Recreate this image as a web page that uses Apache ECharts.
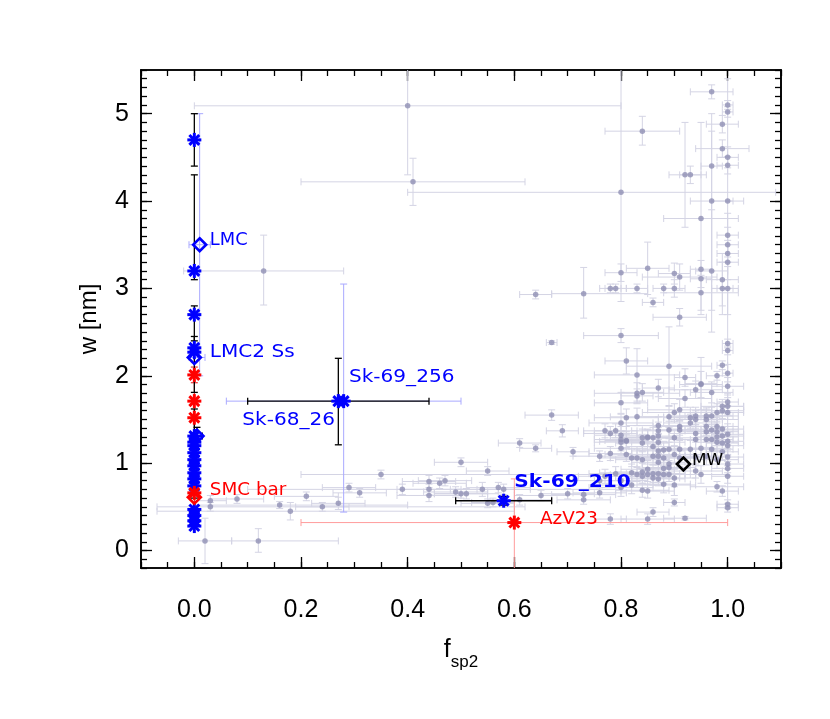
<!DOCTYPE html>
<html><head><meta charset="utf-8">
<script src="https://cdn.jsdelivr.net/npm/echarts@6/dist/echarts.min.js"></script>
<style>html,body{margin:0;padding:0;background:#fff}#c{width:830px;height:719px}</style>
</head><body><div id="c"></div>
<script>
// ---------- tick labels ----------
const xTickValues = [0.0, 0.2, 0.4, 0.6, 0.8, 1.0];
const yTickValues = [0, 1, 2, 3, 4, 5];

// ---------- grey comparison sample: [x, y, dx, dy] (symmetric errors) ----------
const greyPts = [
[1.00,5.10,0.01,0.05],[1.00,5.02,0.01,0.06],[0.99,4.88,0.03,0.10],[1.00,4.50,0.02,0.12],[1.00,4.41,0.02,0.10],
[0.93,4.30,0.02,0.10],[0.97,4.00,0.04,0.80],[1.00,3.61,0.02,0.25],[1.00,3.50,0.02,0.20],[1.00,3.40,0.02,0.15],
[1.00,3.30,0.02,0.20],[0.85,3.23,0.04,0.30],[0.80,3.18,0.03,0.10],[0.90,3.17,0.03,0.12],[0.91,3.13,0.07,0.15],
[0.95,3.22,0.02,0.10],[0.95,3.11,0.02,0.10],[0.97,3.20,0.03,0.70],[0.99,3.10,0.03,0.30],[0.78,3.00,0.02,0.05],
[0.79,3.00,0.02,0.05],[0.83,3.00,0.02,0.05],[0.88,3.00,0.02,0.05],[0.90,3.00,0.02,0.10],[0.95,2.95,0.07,0.20],
[0.99,3.00,0.02,0.30],[1.00,3.00,0.02,0.30],[0.86,2.84,0.02,0.05],[0.91,2.67,0.05,0.10],[0.80,2.46,0.07,0.08],
[0.67,2.38,0.01,0.02],[0.81,2.17,0.04,0.15],[0.89,2.11,0.08,0.45],[0.83,2.01,0.08,0.30],[0.92,1.98,0.02,0.10],
[0.95,1.91,0.03,0.30],[0.98,2.00,0.02,0.05],[0.99,2.12,0.01,0.05],[1.00,2.03,0.01,0.10],[1.00,2.37,0.01,0.05],
[1.00,2.29,0.01,0.05],[0.87,1.86,0.03,0.10],[0.95,1.90,0.04,0.15],[1.00,1.88,0.03,0.10],[0.94,1.84,0.05,0.10],
[0.83,1.80,0.08,0.12],[0.83,1.77,0.03,0.08],[0.84,1.81,0.04,0.10],[0.97,1.81,0.04,0.12],[0.92,1.74,0.05,0.10],
[1.00,1.70,0.02,0.10],[1.00,1.65,0.03,0.10],[1.00,1.58,0.03,0.08],[0.99,1.65,0.04,0.08],[0.99,1.60,0.04,0.10],
[0.91,1.61,0.06,0.12],[0.90,1.58,0.06,0.10],[0.98,1.58,0.04,0.10],[0.97,1.54,0.05,0.10],[0.96,1.54,0.05,0.10],
[0.96,1.50,0.06,0.12],[0.94,1.54,0.05,0.10],[0.94,1.50,0.05,0.10],[0.93,1.52,0.05,0.12],[0.93,1.46,0.05,0.10],
[0.89,1.53,0.06,0.12],[0.81,1.52,0.06,0.10],[0.83,1.53,0.05,0.10],[0.80,1.69,0.05,0.12],[0.91,1.42,0.05,0.10],
[0.87,1.43,0.06,0.10],[0.87,1.37,0.05,0.10],[0.89,1.38,0.05,0.10],[0.91,1.38,0.04,0.10],[0.96,1.42,0.05,0.10],
[0.96,1.36,0.05,0.12],[0.97,1.38,0.05,0.10],[0.98,1.42,0.04,0.10],[0.98,1.36,0.04,0.10],[0.99,1.39,0.04,0.12],
[0.99,1.31,0.04,0.10],[1.00,1.33,0.03,0.12],[1.00,1.25,0.03,0.10],[0.94,1.34,0.05,0.10],[0.80,1.32,0.05,0.10],
[0.81,1.26,0.04,0.10],[0.84,1.29,0.06,0.10],[0.85,1.29,0.05,0.10],[0.86,1.29,0.05,0.12],[0.87,1.31,0.04,0.10],
[0.87,1.24,0.05,0.10],[0.90,1.29,0.05,0.10],[0.94,1.27,0.05,0.10],[0.96,1.27,0.05,0.10],[0.97,1.27,0.04,0.10],
[0.98,1.30,0.04,0.10],[0.98,1.24,0.04,0.10],[0.99,1.23,0.03,0.10],[1.00,1.20,0.03,0.10],[0.84,1.23,0.05,0.10],
[0.86,1.19,0.05,0.10],[0.88,1.15,0.05,0.10],[0.87,1.14,0.05,0.10],[0.89,1.16,0.05,0.08],[0.91,1.16,0.05,0.10],
[0.93,1.16,0.05,0.10],[0.95,1.17,0.05,0.10],[0.97,1.16,0.04,0.10],[0.99,1.13,0.03,0.10],[1.00,1.07,0.03,0.10],
[0.82,1.06,0.06,0.10],[0.83,1.06,0.05,0.10],[0.84,1.04,0.05,0.10],[0.86,1.08,0.05,0.10],[0.87,1.08,0.05,0.08],
[0.88,1.06,0.05,0.10],[0.90,1.10,0.05,0.10],[0.91,1.06,0.05,0.10],[0.94,1.07,0.05,0.10],[0.96,1.08,0.04,0.10],
[0.98,1.04,0.04,0.10],[1.00,0.99,0.03,0.10],[0.89,0.99,0.05,0.10],[0.87,1.01,0.05,0.10],[0.89,0.95,0.05,0.08],
[0.88,0.94,0.05,0.10],[0.82,0.89,0.06,0.10],[0.83,0.87,0.05,0.08],[0.84,0.90,0.05,0.10],[0.84,0.85,0.05,0.08],
[0.85,0.93,0.05,0.10],[0.85,0.87,0.05,0.08],[0.86,0.88,0.05,0.10],[0.86,0.83,0.05,0.08],[0.87,0.88,0.05,0.10],
[0.87,0.82,0.05,0.08],[0.88,0.87,0.04,0.10],[0.89,0.87,0.04,0.08],[0.90,0.83,0.04,0.10],[0.90,0.75,0.04,0.12],
[0.94,0.91,0.05,0.08],[0.95,0.87,0.05,0.10],[1.00,0.94,0.03,0.08],[1.00,0.85,0.03,0.08],[0.80,0.72,0.06,0.10],
[0.82,0.75,0.06,0.10],[0.84,0.69,0.05,0.08],[0.85,0.68,0.05,0.08],[0.88,0.76,0.05,0.10],[0.98,0.73,0.05,0.06],
[0.99,0.68,0.03,0.06],[0.90,0.55,0.02,0.04],[1.00,0.53,0.02,0.05],[1.00,0.49,0.02,0.05],[0.86,0.44,0.03,0.05],
[0.85,0.36,0.05,0.06],[0.92,0.37,0.04,0.02],[0.78,0.36,0.03,0.06],
[0.67,1.55,0.05,0.06],[0.69,1.37,0.03,0.07],[0.61,1.23,0.04,0.05],[0.64,1.17,0.03,0.04],[0.71,1.13,0.03,0.05],
[0.76,1.08,0.05,0.06],[0.78,1.11,0.04,0.08],[0.80,1.24,0.05,0.10],[0.77,1.37,0.04,0.08],[0.78,1.34,0.05,0.08],
[0.80,1.46,0.06,0.10],[0.80,1.27,0.05,0.10],[0.79,1.37,0.04,0.08],[0.81,1.25,0.05,0.08],[0.80,1.17,0.05,0.08],
[0.81,1.10,0.04,0.08],[0.85,1.30,0.05,0.08],[0.50,1.01,0.05,0.05],[0.55,0.91,0.04,0.05],[0.44,0.79,0.05,0.07],
[0.44,0.70,0.06,0.06],[0.44,0.63,0.06,0.07],[0.46,0.77,0.05,0.06],[0.47,0.80,0.05,0.06],[0.49,0.67,0.06,0.06],
[0.50,0.65,0.05,0.05],[0.51,0.65,0.06,0.06],[0.54,0.70,0.06,0.08],[0.57,0.72,0.06,0.06],[0.58,0.70,0.05,0.06],
[0.55,0.54,0.05,0.05],[0.56,0.55,0.04,0.05],[0.61,0.58,0.06,0.06],[0.65,0.63,0.05,0.06],[0.70,0.65,0.05,0.06],
[0.73,0.64,0.06,0.06],[0.73,0.58,0.05,0.05],[0.76,0.66,0.05,0.06],[0.76,0.80,0.05,0.08],[0.77,0.85,0.05,0.08],
[0.79,0.88,0.05,0.08],[0.80,0.80,0.05,0.08],
[0.03,0.57,0.03,0.06],[0.08,0.59,0.05,0.05],[0.21,0.62,0.06,0.05],[0.24,0.50,0.05,0.05],[0.27,0.54,0.05,0.07],
[0.29,0.72,0.05,0.05],[0.31,0.66,0.05,0.05]
];
// grey points with asymmetric / long errors: [x, y, xlo, xhi, ylo, yhi]
const greyWide = [
[0.40,5.09,0.00,0.80,4.30,5.60],[0.41,4.22,0.20,0.62,3.95,4.49],[0.80,4.10,0.40,1.09,2.85,5.60],
[0.13,3.20,-0.02,0.28,2.81,3.61],[0.64,2.93,0.61,0.67,2.88,2.98],[0.73,2.94,0.67,0.85,2.66,3.24],
[0.84,4.80,0.77,0.91,4.64,4.97],[0.99,4.60,0.94,1.04,4.50,4.70],[0.97,5.25,0.93,1.01,5.17,5.33],
[0.95,3.80,0.88,1.02,2.70,4.90],[0.92,4.30,0.89,0.96,3.70,4.90],[0.97,4.40,0.95,0.99,2.75,5.00],
[1.00,4.00,0.97,1.03,0.50,5.40],[0.02,0.11,-0.03,0.07,-0.15,0.37],[0.12,0.11,0.07,0.27,-0.02,0.25],
[0.18,0.45,-0.07,0.60,0.35,0.55],[0.39,0.70,0.10,0.80,0.64,0.76],[0.35,0.87,0.20,1.00,0.82,0.92],
[0.16,0.52,0.00,0.40,0.48,0.56],[0.03,0.50,-0.07,0.62,0.45,0.55]
];

// ---------- highlighted sight lines ----------
const blueStars = [[0,4.70],[0,3.20],[0,2.70],[0,2.32],[0,2.27],[0,1.31],[0,1.24],[0,1.20],[0,1.12],[0,1.04],[0,0.97],
  [0,0.89],[0,0.82],[0,0.74],[0,0.47],[0,0.40],[0,0.34],[0,0.28],[0.27,1.71],[0.28,1.71],[0.58,0.57]];
const redStars = [[0,2.01],[0,1.71],[0,1.52],[0,0.66],[0.60,0.32]];
const blueDiamonds = [[0.01,3.50],[0,2.21],[0.005,1.31]];
const redDiamonds = [[0,0.61]];
const blackDiamonds = [[0.917,0.99]];
// error bars [x, y, xlo, xhi, ylo, yhi]
const blackErr = [[0,4.70,0,0,4.40,5.00],[0,3.20,0,0,3.10,4.30],[0,2.70,0,0,2.40,2.80],[0,2.32,0,0,1.81,2.45],
  [0,1.04,0,0,0.60,1.62],[0.005,1.31,-0.005,0.015,1.25,1.41],[0.27,1.71,0.10,0.44,1.21,2.20],[0.58,0.57,0.49,0.67,0.52,0.62]];
const lightBlueErr = [[0.01,3.50,-0.01,0.03,2.00,5.00],[0.28,1.71,0.06,0.50,0.44,3.05],[0,2.21,-0.01,0.02,2.15,2.28]];
const lightRedErr = [[0.60,0.32,0.20,1.00,-0.30,0.82]];
const redErr = [[0,0.66,0,0,0.30,2.05],[0,2.01,0,0,1.92,2.10]];

// ---------- annotations [text, x, y] ----------
const blueLabels = [["LMC",0.029,3.55],["LMC2 Ss",0.029,2.27],["Sk-69_256",0.29,1.98],["Sk-68_26",0.09,1.49]];
const boldBlueLabels = [["Sk-69_210",0.60,0.78]];
const redLabels = [["SMC bar",0.029,0.69],["AzV23",0.648,0.35]];
const blackLabels = [["MW",0.933,1.03]];

// ---------- build ----------
const xMinor = []; for (let i = -2; i <= 22; i++) xMinor.push(+(i * 0.05).toFixed(2));
const yMinor = []; for (let i = -2; i <= 55; i++) yMinor.push(+(i / 10).toFixed(1));
const greyAll = greyPts.map(p => [p[0], p[1], p[0]-p[2], p[0]+p[2], p[1]-p[3], p[1]+p[3]]).concat(greyWide);

const FONT = 'Liberation Sans';
const LINE = {color:'#000', width:1.6};

function mkX(pos, major, labels) {
  return {type:'value', min:-0.1, max:1.1, position:pos, gridIndex:0,
    axisLine:{show:true, onZero:false, lineStyle:LINE},
    axisTick:{show:true, inside:true, length: major?11:6, customValues: major?xTickValues:xMinor, lineStyle:{color:'#000',width:1.3}},
    axisLabel:{show:labels, customValues:xTickValues, formatter:v=>v.toFixed(1), fontFamily:FONT, fontSize:25, color:'#000', margin:30},
    splitLine:{show:false},
    name: labels ? '{f|f}{s|sp2}' : '', nameLocation:'middle', nameGap:70,
    nameTextStyle:{rich:{f:{fontFamily:FONT,fontSize:25,color:'#000',lineHeight:26,verticalAlign:'top'},
                         s:{fontFamily:FONT,fontSize:17,color:'#000',lineHeight:48,verticalAlign:'middle'}}}
  };
}
function mkY(pos, major, labels) {
  return {type:'value', min:-0.2, max:5.5, position:pos, gridIndex:0,
    axisLine:{show:true, onZero:false, lineStyle:LINE},
    axisTick:{show:true, inside:true, length: major?11:6, customValues: major?yTickValues:yMinor, lineStyle:{color:'#000',width:1.3}},
    axisLabel:{show:labels, customValues:yTickValues, formatter:v=>String(v), fontFamily:FONT, fontSize:25, color:'#000', margin:12},
    splitLine:{show:false},
    name: labels ? 'w [nm]' : '', nameLocation:'middle', nameGap:40, nameRotate:90,
    nameTextStyle:{fontFamily:FONT, fontSize:24, color:'#000'}
  };
}

function errSeries(data, color, width, z, cap) {
  return {type:'custom', clip:true, z:z, silent:true, data:data,
    encode:{x:0, y:1},
    renderItem:function(params, api){
      const x=api.value(0), y=api.value(1), xlo=api.value(2), xhi=api.value(3), ylo=api.value(4), yhi=api.value(5);
      const st = {stroke:color, lineWidth:width};
      const ch = [];
      if (xhi > xlo) {
        const a = api.coord([xlo, y]), b = api.coord([xhi, y]);
        ch.push({type:'line', shape:{x1:a[0],y1:a[1],x2:b[0],y2:b[1]}, style:st});
        ch.push({type:'line', shape:{x1:a[0],y1:a[1]-cap,x2:a[0],y2:a[1]+cap}, style:st});
        ch.push({type:'line', shape:{x1:b[0],y1:b[1]-cap,x2:b[0],y2:b[1]+cap}, style:st});
      }
      if (yhi > ylo) {
        const a = api.coord([x, ylo]), b = api.coord([x, yhi]);
        ch.push({type:'line', shape:{x1:a[0],y1:a[1],x2:b[0],y2:b[1]}, style:st});
        ch.push({type:'line', shape:{x1:a[0]-cap,y1:a[1],x2:a[0]+cap,y2:a[1]}, style:st});
        ch.push({type:'line', shape:{x1:b[0]-cap,y1:b[1],x2:b[0]+cap,y2:b[1]}, style:st});
      }
      return {type:'group', children:ch};
    }};
}
function starSeries(data, color) {
  return {type:'custom', clip:false, z:10, silent:true, data:data, encode:{x:0,y:1},
    renderItem:function(params, api){
      const p = api.coord([api.value(0), api.value(1)]);
      const r = 7, d = r*0.7071;
      const segs = [[0,-r,0,r],[-r,0,r,0],[-d,-d,d,d],[-d,d,d,-d]];
      return {type:'group', children: segs.map(s=>({type:'line',
        shape:{x1:p[0]+s[0],y1:p[1]+s[1],x2:p[0]+s[2],y2:p[1]+s[3]}, style:{stroke:color, lineWidth:3}}))};
    }};
}
function diamondSeries(data, color) {
  return {type:'custom', clip:false, z:11, silent:true, data:data, encode:{x:0,y:1},
    renderItem:function(params, api){
      const p = api.coord([api.value(0), api.value(1)]);
      const r = 6.5;
      return {type:'polygon', shape:{points:[[p[0],p[1]-r],[p[0]+r,p[1]],[p[0],p[1]+r],[p[0]-r,p[1]]]},
        style:{fill:'none', stroke:color, lineWidth:2.6}};
    }};
}
function labelSeries(list, color, size, weight, sx) {
  return {type:'custom', clip:false, z:12, silent:true, data:list.map(l=>[l[1], l[2]]), encode:{x:0,y:1},
    renderItem:function(params, api){
      const p = api.coord([api.value(0), api.value(1)]);
      return {type:'text', x:p[0], y:p[1], scaleX:sx,
        style:{text:list[params.dataIndex][0], fill:color, font:weight+' '+size+'px "DejaVu Sans"',
          textAlign:'left', textVerticalAlign:'middle'}};
    }};
}

const chart = echarts.init(document.getElementById('c'), null, {renderer:'canvas'});
chart.setOption({
  animation:false,
  backgroundColor:'#fff',
  grid:{left:141, top:70, width:640, height:498, containLabel:false},
  xAxis:[mkX('bottom',true,true), mkX('bottom',false,false), mkX('top',true,false), mkX('top',false,false)],
  yAxis:[mkY('left',true,true), mkY('left',false,false), mkY('right',true,false), mkY('right',false,false)],
  series:[
    errSeries(greyAll, '#d4d4e4', 1, 1, 3.5),
    {type:'scatter', z:2, silent:true, data:greyAll.map(p=>[p[0],p[1]]), symbol:'circle', symbolSize:5.5,
      itemStyle:{color:'#9090b4'}},
    errSeries(lightBlueErr, '#a9a9ff', 1, 3, 3.5),
    errSeries(lightRedErr, '#ff9c9c', 1, 3, 3.5),
    errSeries(redErr, '#e81010', 1, 4, 3.5),
    errSeries(blackErr, '#000', 1.3, 5, 3.5),
    starSeries(blueStars, '#0000ff'),
    starSeries(redStars, '#ff0000'),
    diamondSeries(blueDiamonds, '#0000ff'),
    diamondSeries(redDiamonds, '#ff0000'),
    diamondSeries(blackDiamonds, '#000'),
    labelSeries([blueLabels[0]], '#0000ff', 17, 'normal', 1.05),
    labelSeries(blueLabels.slice(1), '#0000ff', 17, 'normal', 1.18),
    labelSeries(boldBlueLabels, '#0000ff', 18, 'bold', 1.12),
    labelSeries(redLabels, '#ff0000', 17, 'normal', 1.08),
    labelSeries(blackLabels, '#000', 16, 'normal', 1.05)
  ]
});
</script></body></html>
